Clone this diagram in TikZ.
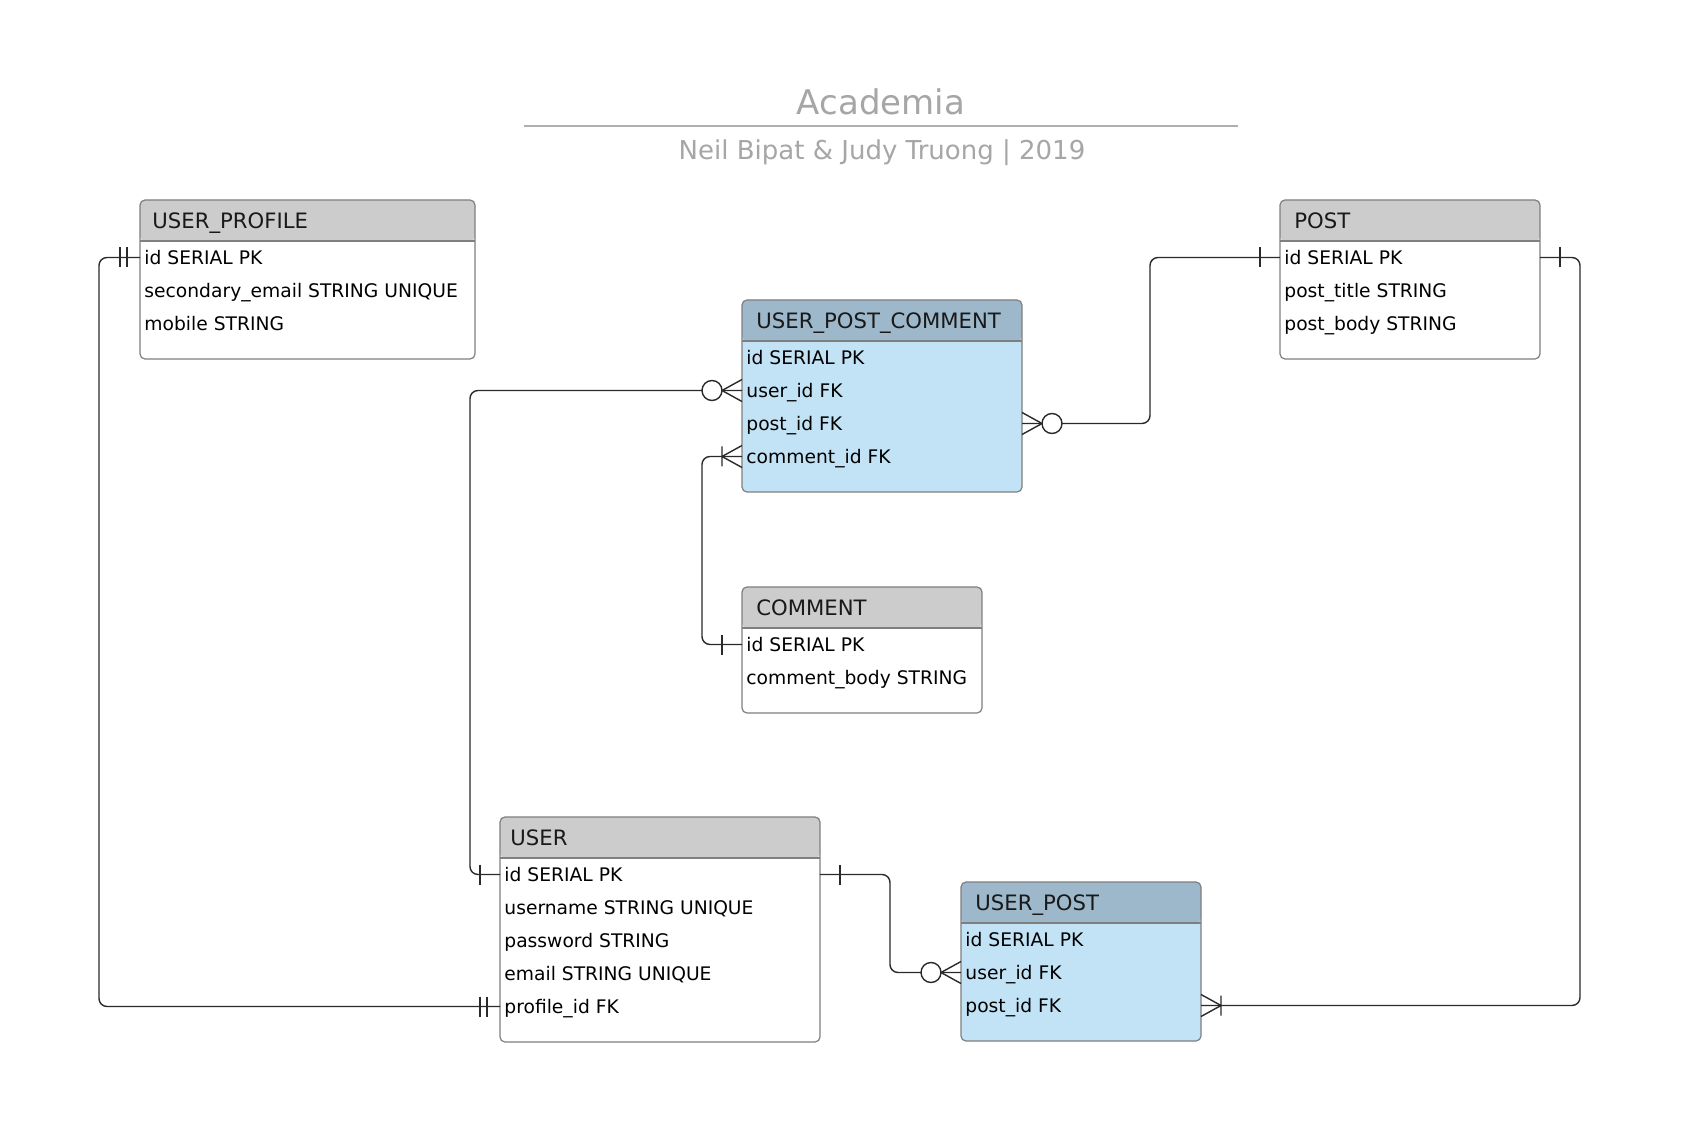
\documentclass[tikz,border=0pt]{standalone}
\usepackage{fontspec}
\setmainfont{DejaVu Sans}
\definecolor{hdrgray}{HTML}{CCCCCC}
\definecolor{hdrblue}{HTML}{9DB8CA}
\definecolor{bodyblue}{HTML}{C2E3F6}
\definecolor{boxline}{HTML}{7F7F7F}
\definecolor{titlegray}{HTML}{A6A6A6}
\definecolor{linecol}{HTML}{2A2A2A}
\tikzset{
  entbase/.style={draw=boxline, line width=0.6pt, rounded corners=2.5pt, anchor=north west, inner sep=0pt, outer sep=0pt},
  hdrband/.style={path picture={
      \fill[#1] (path picture bounding box.north west) rectangle ([yshift=-20.5pt]path picture bounding box.north east);
      \draw[boxline, line width=0.6pt] ([yshift=-20.5pt]path picture bounding box.north west) -- ([yshift=-20.5pt]path picture bounding box.north east);}},
  plainent/.style={entbase, fill=white, hdrband=hdrgray},
  assocent/.style={entbase, fill=bodyblue, hdrband=hdrblue},
  hdrtext/.style={anchor=west, inner sep=0pt, font=\fontsize{10.6pt}{12pt}\selectfont, text=black!90, text height=7.7pt, text depth=0pt},
  rowtext/.style={anchor=west, inner sep=0pt, font=\fontsize{9.35pt}{11pt}\selectfont, text=black, text height=6.8pt, text depth=0pt},
  conn/.style={draw=linecol, line width=0.7pt},
  connpath/.style={conn, rounded corners=4pt},
  mkone/.pic={\draw[conn] (-20,-10) -- (-20,10);},
  mktwo/.pic={\draw[conn] (-13,-10) -- (-13,10) (-20,-10) -- (-20,10);},
  mkzeromany/.pic={\draw[conn] (0,-11) -- (-20,0) -- (0,11); \draw[conn, fill=white] (-30,0) circle[radius=5pt];},
  mkonemany/.pic={\draw[conn] (0,-11) -- (-20,0) -- (0,11) (-20,-10) -- (-20,10);},
}
\begin{document}
\begin{tikzpicture}[x=0.5pt,y=-0.5pt]
\fill[white] (0,0) rectangle (1692,1144);
\useasboundingbox (0,0) rectangle (1692,1144);

% title
\node[anchor=base, inner sep=0pt, text=titlegray, font=\fontsize{17pt}{19pt}\selectfont] (title) at (881,115) {Academia};
\coordinate (rulel) at (524,126);
\coordinate (ruler) at (1238,126);
\draw[titlegray!90, line width=1pt] (rulel) -- (ruler);
\node[anchor=base, inner sep=0pt, text=titlegray, font=\fontsize{13pt}{15pt}\selectfont] (subtitle) at (882,160) {Neil Bipat \& Judy Truong | 2019};

% USER_PROFILE
\node[plainent, minimum width=167.5pt, minimum height=79.5pt] (uprof) at (140,200) {};
\node[hdrtext] (uprof-h) at (152,220.5) {USER\_PROFILE};
\node[rowtext] (uprof-id) at (144,257.5) {id SERIAL PK};
\node[rowtext] (uprof-mail) at (144,290.5) {secondary\_email STRING UNIQUE};
\node[rowtext] (uprof-mob) at (144,323.5) {mobile STRING};

% POST
\node[plainent, minimum width=130pt, minimum height=79.5pt] (post) at (1280,200) {};
\node[hdrtext] (post-h) at (1294,220.5) {POST};
\node[rowtext] (post-id) at (1284,257.5) {id SERIAL PK};
\node[rowtext] (post-title) at (1284,290.5) {post\_title STRING};
\node[rowtext] (post-body) at (1284,323.5) {post\_body STRING};

% USER_POST_COMMENT
\node[assocent, minimum width=140pt, minimum height=96pt] (upc) at (742,300) {};
\node[hdrtext] (upc-h) at (756,320.5) {USER\_POST\_COMMENT};
\node[rowtext] (upc-id) at (746,357.5) {id SERIAL PK};
\node[rowtext] (upc-user) at (746,390.5) {user\_id FK};
\node[rowtext] (upc-post) at (746,423.5) {post\_id FK};
\node[rowtext] (upc-comment) at (746,456.5) {comment\_id FK};

% COMMENT
\node[plainent, minimum width=120pt, minimum height=63pt] (comment) at (742,587) {};
\node[hdrtext] (comment-h) at (756,607.5) {COMMENT};
\node[rowtext] (comment-id) at (746,644.5) {id SERIAL PK};
\node[rowtext] (comment-body) at (746,677.5) {comment\_body STRING};

% USER
\node[plainent, minimum width=160pt, minimum height=112.5pt] (user) at (500,817) {};
\node[hdrtext] (user-h) at (510,837.5) {USER};
\node[rowtext] (user-id) at (504,874.5) {id SERIAL PK};
\node[rowtext] (user-name) at (504,907.5) {username STRING UNIQUE};
\node[rowtext] (user-pass) at (504,940.5) {password STRING};
\node[rowtext] (user-mail) at (504,973.5) {email STRING UNIQUE};
\node[rowtext] (user-prof) at (504,1006.5) {profile\_id FK};

% USER_POST
\node[assocent, minimum width=120pt, minimum height=79.5pt] (upost) at (961,882) {};
\node[hdrtext] (upost-h) at (975,902.5) {USER\_POST};
\node[rowtext] (upost-id) at (965,939.5) {id SERIAL PK};
\node[rowtext] (upost-user) at (965,972.5) {user\_id FK};
\node[rowtext] (upost-post) at (965,1005.5) {post\_id FK};

% connectors
\draw[connpath] (uprof.west |- uprof-id) -- ++(-41,0) |- (user.west |- user-prof);
\draw[connpath] (upc.west |- upc-user) -- ++(-272,0) |- (user.west |- user-id);
\draw[connpath] (upc.east |- upc-post) -- ++(128,0) |- (post.west |- post-id);
\draw[connpath] (upc.west |- upc-comment) -- ++(-40,0) |- (comment.west |- comment-id);
\draw[connpath] (user.east |- user-id) -- ++(70,0) |- (upost.west |- upost-user);
\draw[connpath] (post.east |- post-id) -- ++(40,0) |- (upost.east |- upost-post);

% cardinality marks
\pic at (uprof.west |- uprof-id) {mktwo};
\pic at (user.west |- user-prof) {mktwo};
\pic at (upc.west |- upc-user) {mkzeromany};
\pic at (user.west |- user-id) {mkone};
\pic[rotate=180] at (upc.east |- upc-post) {mkzeromany};
\pic at (post.west |- post-id) {mkone};
\pic at (upc.west |- upc-comment) {mkonemany};
\pic at (comment.west |- comment-id) {mkone};
\pic[rotate=180] at (user.east |- user-id) {mkone};
\pic at (upost.west |- upost-user) {mkzeromany};
\pic[rotate=180] at (post.east |- post-id) {mkone};
\pic[rotate=180] at (upost.east |- upost-post) {mkonemany};
\end{tikzpicture}
\end{document}
